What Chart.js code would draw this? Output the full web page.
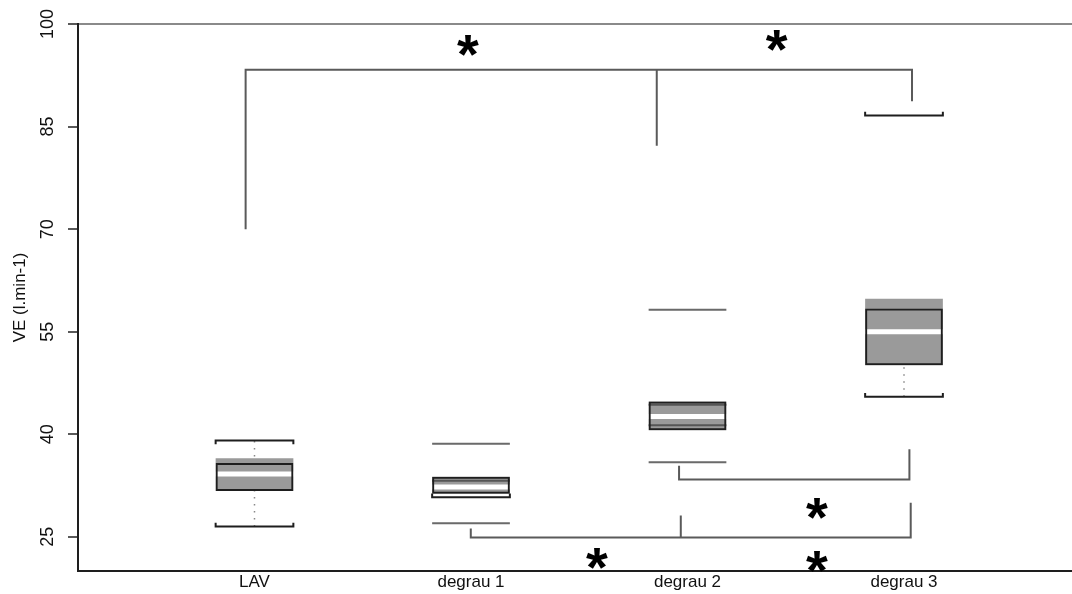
<!DOCTYPE html>
<html>
<head>
<meta charset="utf-8">
<script src="https://cdn.jsdelivr.net/npm/chart.js@4"></script>
<style>
  html, body { margin: 0; padding: 0; background: #fff; }
</style>
</head>
<body>
<canvas id="chart" width="1072" height="594"></canvas>
<script>
// categories and where they sit on the x scale
const categories = ["LAV", "degrau 1", "degrau 2", "degrau 3"]
const positions = [1, 2, 3, 4]
const yTicks = [25, 40, 55, 70, 85, 100]

// gray filled boxes with white medians
const grayLow = [31.7, 31.3, 40.6, 50.1]
const grayHigh = [36.5, 33.8, 44.8, 59.8]
const medians = [34.2, 32.3, 42.6, 55.0]

// black outlined boxes
const boxLow = [31.7, 31.3, 40.6, 50.1]
const boxHigh = [35.8, 33.8, 44.8, 58.4]

// extra dark lines inside some boxes
const innerCat = [2, 3, 3]
const innerVal = [33.2, 44.3, 41.3]

// whisker caps: black bracket caps, and plain gray ones
const capCat = [1, 1, 4, 4, 2]
const capVal = [39.1, 26.5, 86.6, 45.5, 30.8]
const capDir = [-1, 1, 1, 1, 1]
const plainCapCat = [2, 2, 3, 3]
const plainCapVal = [38.6, 27.0, 58.2, 35.9]

// dotted whiskers
const whiskerCat = [1, 4]
const whiskerFrom = [26.5, 45.5]
const whiskerTo = [39.1, 59.8]

// significance brackets
const bracketX = [
  [0.959, 0.959, 4.037, 4.037],
  [2.858, 2.858],
  [2.961, 2.961, 4.025, 4.025],
  [1.999, 1.999, 4.031, 4.031],
  [2.969, 2.969]
]
const bracketY = [
  [70.0, 93.3, 93.3, 88.7],
  [93.3, 82.2],
  [35.4, 33.4, 33.4, 37.8],
  [26.2, 24.9, 24.9, 30.0],
  [24.9, 28.1]
]

// asterisks
const starX = [1.986, 3.412, 3.598, 2.581, 3.598]
const starY = [96.9, 97.6, 29.2, 21.9, 21.4]

const BOX = 0.359
const HALF = BOX / 2
const TICK = 0.55
const FONT = "'Liberation Sans', Arial, sans-serif"

// join polylines into one point list, broken with null gaps
function polylines(lines) {
  const out = []
  lines.forEach(pts => {
    pts.forEach(p => out.push(p))
    out.push({ x: pts[pts.length - 1].x, y: null })
  })
  return out
}

const hline = (cat, v) => [{ x: cat - HALF, y: v }, { x: cat + HALF, y: v }]

const medianPts = polylines(positions.map((p, i) => hline(p, medians[i])))
const innerPts = polylines(innerCat.map((c, i) => hline(c, innerVal[i])))
const capPts = polylines(capCat.map((c, i) => [
  { x: c - HALF, y: capVal[i] + capDir[i] * TICK },
  { x: c - HALF, y: capVal[i] },
  { x: c + HALF, y: capVal[i] },
  { x: c + HALF, y: capVal[i] + capDir[i] * TICK }
]))
const plainCapPts = polylines(plainCapCat.map((c, i) => hline(c, plainCapVal[i])))
const whiskerPts = polylines(whiskerCat.map((c, i) => [{ x: c, y: whiskerFrom[i] }, { x: c, y: whiskerTo[i] }]))
const bracketPts = polylines(bracketX.map((xs, i) => xs.map((x, j) => ({ x, y: bracketY[i][j] }))))

const lineSet = (data, color, width, order, dash) => ({
  type: "line", data, borderColor: color, borderWidth: width, borderDash: dash || [],
  pointRadius: 0, spanGaps: false, order, fill: false
})

const asterisks = {
  id: "asterisks",
  afterDatasetsDraw(chart) {
    const { ctx, scales: { x, y } } = chart
    const size = 56
    ctx.save()
    ctx.font = "bold " + size + "px " + FONT
    ctx.fillStyle = "#000"
    ctx.textAlign = "center"
    ctx.textBaseline = "alphabetic"
    starX.forEach((sx, i) => {
      ctx.fillText("*", x.getPixelForValue(sx), y.getPixelForValue(starY[i]) + 0.5 * size)
    })
    ctx.restore()
  }
}

new Chart(document.getElementById("chart"), {
  type: "bar",
  data: {
    datasets: [
      lineSet(whiskerPts, "#888", 1.5, 6, [1.5, 5.5]),
      {
        data: positions.map((p, i) => ({ x: p, y: [grayLow[i], grayHigh[i]] })),
        backgroundColor: "#9a9a9a", borderWidth: 0, grouped: false,
        barPercentage: BOX, categoryPercentage: 1, order: 5
      },
      lineSet(innerPts, "#555", 2, 4),
      lineSet(medianPts, "#fff", 5, 3),
      {
        data: positions.map((p, i) => ({ x: p, y: [boxLow[i], boxHigh[i]] })),
        backgroundColor: "rgba(0,0,0,0)", borderColor: "#1e1e1e", borderWidth: 2,
        borderSkipped: false, grouped: false,
        barPercentage: BOX, categoryPercentage: 1, order: 2
      },
      lineSet(capPts, "#1e1e1e", 2, 1),
      lineSet(plainCapPts, "#6a6a6a", 2, 1),
      lineSet(bracketPts, "#5a5a5a", 2, 0)
    ]
  },
  options: {
    responsive: false,
    animation: false,
    layout: { padding: { top: 24, left: 0, right: 0, bottom: 0 } },
    plugins: { legend: { display: false }, tooltip: { enabled: false } },
    scales: {
      x: {
        type: "linear", min: 0.18476, max: 4.77598, offset: false,
        afterBuildTicks: s => { s.ticks = positions.map(v => ({ value: v })) },
        afterFit: s => { s.height = 23 },
        grid: { display: false, drawTicks: false },
        border: { color: "#1e1e1e", width: 2 },
        ticks: {
          padding: 1, color: "#111", font: { family: FONT, size: 17 },
          callback: v => categories[positions.indexOf(v)] || ""
        }
      },
      y: {
        min: 20, max: 100,
        afterBuildTicks: s => { s.ticks = yTicks.map(v => ({ value: v })) },
        afterFit: s => { s.width = 78 },
        grid: {
          color: c => (c.tick && c.tick.value === 100 ? "#8a8a8a" : "rgba(0,0,0,0)"),
          lineWidth: 2, tickLength: 10, tickColor: "#222", tickWidth: 1.5
        },
        border: { color: "#1e1e1e", width: 2 },
        ticks: {
          minRotation: 90, maxRotation: 90, crossAlign: "center", padding: 5,
          color: "#111", font: { family: FONT, size: 18 }
        },
        title: {
          display: true, text: "VE (l.min-1)", color: "#111",
          font: { family: FONT, size: 17 }, padding: { top: 10, bottom: 0 }
        }
      }
    }
  },
  plugins: [asterisks]
})
</script>
</body>
</html>
